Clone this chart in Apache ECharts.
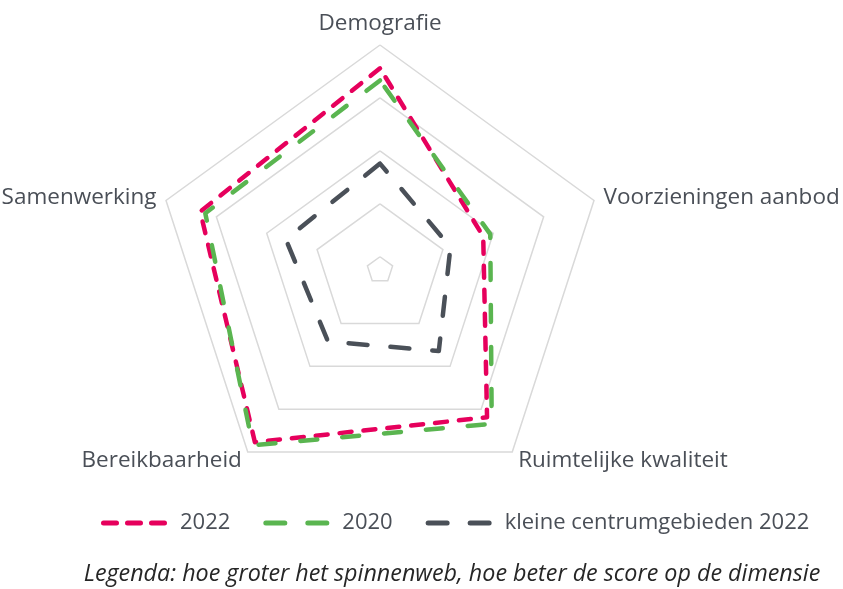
<!DOCTYPE html>
<html>
<head>
<meta charset="utf-8">
<script src="https://cdn.jsdelivr.net/npm/echarts@6/dist/echarts.min.js"></script>
<style>
    html, body { margin: 0; padding: 0; background: #fff; }
    #chart { width: 843px; height: 589px; }
</style>
</head>
<body>
<div id="chart"></div>
<script>
// dimensions, in the order ECharts walks round the radar (counter-clockwise from the top)
const dimensions = ['Demografie', 'Samenwerking', 'Bereikbaarheid', 'Ruimtelijke kwaliteit', 'Voorzieningen aanbod'];
const seriesNames = ['2022', '2020', 'kleine centrumgebieden 2022'];
const values2022 = [3.56, 3.32, 3.77, 3.19, 1.80];
const values2020 = [3.33, 3.22, 3.84, 3.34, 1.94];
const valuesKlein = [1.76, 1.62, 1.42, 1.64, 1.15];
const caption = 'Legenda: hoe groter het spinnenweb, hoe beter de score op de dimensie';

const colors = ['#e6005c', '#5ab550', '#4a5058'];
const dashes = [[12, 12], [17, 25], [19, 23]];
const textColor = '#4a4f57';
const font = '"Open Sans", "Noto Sans", sans-serif';
const allValues = [values2022, values2020, valuesKlein];

/**
 * Legend icon: a row of rounded dashes, 5px high.
 */
function dashIcon(starts, len) {
    let d = '';
    starts.forEach(function (x0) {
        d += 'M' + (x0 + 2.5) + ',0 H' + (x0 + len - 2.5) + ' A2.5,2.5 0 0 1 ' + (x0 + len - 2.5) + ',5 H' +
            (x0 + 2.5) + ' A2.5,2.5 0 0 1 ' + (x0 + 2.5) + ',0 Z ';
    });
    return 'path://' + d;
}
const icons = [dashIcon([0, 24, 48], 18), dashIcon([0, 42], 24), dashIcon([0, 42], 24)];

const chart = echarts.init(document.getElementById('chart'));

const options = {
    animation: false,
    radar: {
        center: [380, 270],
        radius: 225,
        startAngle: 90,
        shape: 'polygon',
        splitNumber: 17,
        nameGap: 10,
        indicator: dimensions.map(function (name) {
            return { name: name, min: -0.25, max: 4 };
        }),
        axisName: {
            color: textColor,
            fontSize: 22.5,
            fontFamily: font
        },
        axisLine: { show: false },
        axisTick: { show: false },
        axisLabel: { show: false },
        splitArea: { show: false },
        // only every 4th ring is visible: values 0, 1, 2, 3, 4
        splitLine: {
            lineStyle: {
                width: 1.5,
                color: ['rgba(0,0,0,0)', '#d9d9d9', 'rgba(0,0,0,0)', 'rgba(0,0,0,0)']
            }
        }
    },
    legend: {
        left: 101,
        top: 512,
        padding: 0,
        itemWidth: 66,
        itemHeight: 5,
        itemGap: 33,
        itemStyle: { borderWidth: 0 },
        textStyle: {
            color: textColor,
            fontSize: 22,
            fontFamily: font,
            padding: [0, 0, 0, 8]
        },
        data: seriesNames.map(function (name, i) {
            return { name: name, icon: icons[i], itemStyle: { color: colors[i], borderWidth: 0 } };
        })
    },
    graphic: [{
        type: 'text',
        x: 452,
        y: 574,
        style: {
            text: caption,
            align: 'center',
            verticalAlign: 'middle',
            fontSize: 23.3,
            fontStyle: 'italic',
            fontFamily: font,
            fill: '#262626'
        }
    }],
    series: seriesNames.map(function (name, i) {
        return {
            type: 'radar',
            name: name,
            symbol: 'none',
            color: colors[i],
            lineStyle: {
                color: colors[i],
                width: 4.5,
                type: dashes[i],
                cap: 'round'
            },
            data: [{ name: name, value: allValues[i] }]
        };
    })
};
chart.setOption(options);
</script>
</body>
</html>
